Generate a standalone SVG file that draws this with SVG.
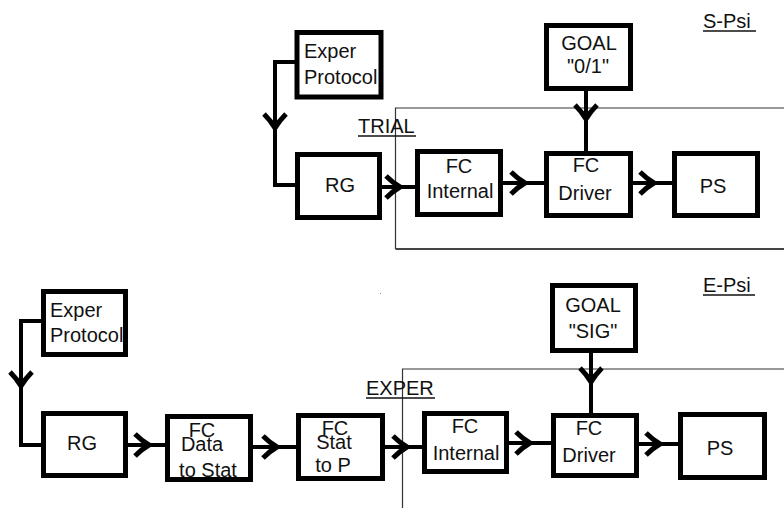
<svg xmlns="http://www.w3.org/2000/svg" xmlns:xlink="http://www.w3.org/1999/xlink" width="784" height="508" viewBox="0 0 784 508">
<style>
  .box{fill:#fff;stroke:#000;stroke-width:5}
  .wire{fill:none;stroke:#000;stroke-width:4}
  .frame{fill:none;stroke:#333;stroke-width:1.2}
  .t{font-family:"Liberation Sans",Arial,Helvetica,sans-serif;font-size:20px;fill:#111}
  .c{text-anchor:middle}
  .u{fill:none;stroke:#111;stroke-width:1.3}
</style>
<defs>
  <path id="ah" d="M-17,-11 Q-10,-4 -3,0 Q-10,4 -17,11" fill="none" stroke="#000" stroke-width="5" stroke-linejoin="miter"/>
</defs>
<rect width="784" height="508" fill="#fff"/>

<!-- frames -->
<g id="trial-frame">
  <path class="frame" d="M784,108 H395.5 V249"/>
  <path d="M395.5,249 H784" fill="none" stroke="#444" stroke-width="1.8"/>
  <text class="t" x="358" y="133">TRIAL</text>
  <line class="u" x1="358" y1="136" x2="416" y2="136"/>
</g>
<g id="exper-frame">
  <path class="frame" d="M784,369 H402.5 V508"/>
  <text class="t" x="366" y="395">EXPER</text>
  <line class="u" x1="366" y1="398" x2="435" y2="398"/>
</g>
<g id="s-psi">
  <text class="t" x="703" y="28">S-Psi</text>
  <line class="u" x1="703" y1="31" x2="756" y2="31"/>
</g>
<g id="e-psi">
  <text class="t" x="703" y="292">E-Psi</text>
  <line class="u" x1="703" y1="295" x2="755" y2="295"/>
</g>
<rect x="380" y="293" width="1" height="1" fill="#888"/>

<!-- connectors -->
<g id="connectors">
  <path class="wire" d="M297,62 H275 V185 H297"/>
  <use xlink:href="#ah" transform="translate(275,131) rotate(90)"/>
  <path class="wire" d="M382,187 H417"/>
  <use xlink:href="#ah" transform="translate(403,187)"/>
  <path class="wire" d="M503,183 H546"/>
  <use xlink:href="#ah" transform="translate(528,183)"/>
  <path class="wire" d="M586,91 V153"/>
  <use xlink:href="#ah" transform="translate(586,122) rotate(90)"/>
  <path class="wire" d="M633,183 H674"/>
  <use xlink:href="#ah" transform="translate(657,183)"/>

  <path class="wire" d="M43,321 H21 V445 H43"/>
  <use xlink:href="#ah" transform="translate(21,389) rotate(90)"/>
  <path class="wire" d="M128,445 H167"/>
  <use xlink:href="#ah" transform="translate(152,445)"/>
  <path class="wire" d="M253,447 H298"/>
  <use xlink:href="#ah" transform="translate(280,447)"/>
  <path class="wire" d="M385,447 H424"/>
  <use xlink:href="#ah" transform="translate(410,447)"/>
  <path class="wire" d="M509,443 H553"/>
  <use xlink:href="#ah" transform="translate(533,443)"/>
  <path class="wire" d="M591,353 V415"/>
  <use xlink:href="#ah" transform="translate(591,385) rotate(90)"/>
  <path class="wire" d="M639,444 H680"/>
  <use xlink:href="#ah" transform="translate(663,444)"/>
</g>

<!-- top row nodes -->
<g id="s-exper">
  <rect class="box" x="297" y="32.5" width="84" height="64.5"/>
  <text class="t" x="304" y="58">Exper</text>
  <text class="t" x="304" y="84">Protocol</text>
</g>
<g id="s-rg">
  <rect class="box" x="297.5" y="154.5" width="82" height="63"/>
  <text class="t c" x="340" y="192">RG</text>
</g>
<g id="s-fcint">
  <rect class="box" x="417.5" y="151.5" width="83" height="63"/>
  <text class="t c" x="459" y="173">FC</text>
  <text class="t c" x="460" y="198">Internal</text>
</g>
<g id="s-goal">
  <rect class="box" x="546.5" y="25.5" width="84" height="63"/>
  <text class="t c" x="589" y="50">GOAL</text>
  <text class="t c" x="588" y="73">"0/1"</text>
</g>
<g id="s-driver">
  <rect class="box" x="546.5" y="153.5" width="84" height="62"/>
  <text class="t c" x="586" y="172">FC</text>
  <text class="t c" x="585" y="200">Driver</text>
</g>
<g id="s-ps">
  <rect class="box" x="674.5" y="153.5" width="83" height="62"/>
  <text class="t c" x="713" y="193">PS</text>
</g>

<!-- bottom row nodes -->
<g id="e-exper">
  <rect class="box" x="43.5" y="291.5" width="82" height="63"/>
  <text class="t" x="50" y="317">Exper</text>
  <text class="t" x="50" y="342">Protocol</text>
</g>
<g id="e-rg">
  <rect class="box" x="43.5" y="413.5" width="82" height="62"/>
  <text class="t c" x="82" y="450">RG</text>
</g>
<g id="e-data">
  <rect class="box" x="167.5" y="416.5" width="83" height="63"/>
  <text class="t c" x="202" y="437">FC</text>
  <text class="t c" x="202" y="451">Data</text>
  <text class="t c" x="208" y="477">to Stat</text>
</g>
<g id="e-stat">
  <rect class="box" x="298.5" y="415.5" width="84" height="63"/>
  <text class="t c" x="335" y="435">FC</text>
  <text class="t c" x="334" y="449">Stat</text>
  <text class="t c" x="333" y="472">to P</text>
</g>
<g id="e-fcint">
  <rect class="box" x="424.5" y="413.5" width="82" height="58"/>
  <text class="t c" x="465" y="433">FC</text>
  <text class="t c" x="466" y="460">Internal</text>
</g>
<g id="e-goal">
  <rect class="box" x="552.5" y="285.5" width="83" height="65"/>
  <text class="t c" x="593" y="312">GOAL</text>
  <text class="t c" x="593" y="338">"SIG"</text>
</g>
<g id="e-driver">
  <rect class="box" x="553.5" y="415.5" width="83" height="60"/>
  <text class="t c" x="589" y="435">FC</text>
  <text class="t c" x="589" y="462">Driver</text>
</g>
<g id="e-ps">
  <rect class="box" x="680.5" y="414.5" width="84" height="63"/>
  <text class="t c" x="720" y="455">PS</text>
</g>
</svg>
